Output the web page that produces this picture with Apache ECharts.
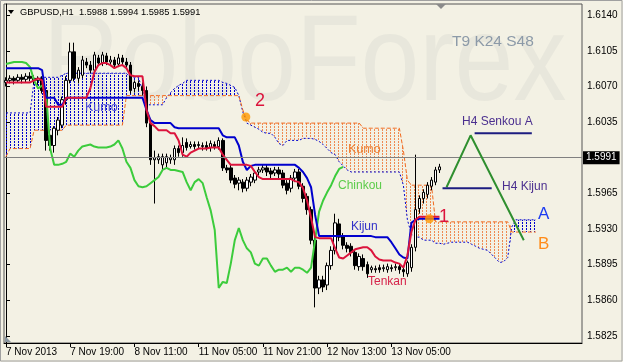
<!DOCTYPE html>
<html><head><meta charset="utf-8">
<script src="https://cdn.jsdelivr.net/npm/echarts@6.0.0/dist/echarts.min.js"></script>
<style>html,body{margin:0;padding:0;background:#F3F1E4;}#c{width:623px;height:362px;}</style>
</head><body><div id="c"></div>
<script>
// ---------- data ----------
const symbolTitle = 'GBPUSD,H1  1.5988 1.5994 1.5985 1.5991';
const tickLabels = ['7 Nov 2013','7 Nov 19:00','8 Nov 11:00','11 Nov 05:00','11 Nov 21:00','12 Nov 13:00','13 Nov 05:00'];
const barsPerTick = 16;
const slotCount = 144;
const priceTicks = [1.5825,1.5860,1.5895,1.5930,1.5965,1.6000,1.6035,1.6070,1.6105,1.6140];
const lastPrice = 1.5991;

// [open, close, low, high]
const candles = [
[1.6074,1.6076,1.6070,1.6079],[1.6076,1.6078,1.6073,1.6081],[1.6078,1.6076,1.6072,1.6080],[1.6076,1.6079,1.6074,1.6082],[1.6079,1.6077,1.6073,1.6082],
[1.6077,1.6080,1.6074,1.6083],[1.6080,1.6078,1.6075,1.6084],[1.6078,1.6076,1.6072,1.6081],[1.6076,1.6078,1.6071,1.6080],[1.6078,1.6066,1.6063,1.6080],
[1.6066,1.6017,1.6007,1.6068],[1.6022,1.6012,1.6007,1.6026],[1.6012,1.6029,1.6005,1.6031],[1.6027,1.6037,1.6022,1.6040],[1.6032,1.6057,1.6029,1.6060],
[1.6057,1.6076,1.6052,1.6080],[1.6076,1.6104,1.6073,1.6113],[1.6104,1.6078,1.6075,1.6113],[1.6078,1.6086,1.6073,1.6089],[1.6081,1.6096,1.6078,1.6100],
[1.6094,1.6091,1.6088,1.6098],[1.6091,1.6086,1.6083,1.6095],[1.6086,1.6101,1.6083,1.6104],[1.6098,1.6093,1.6090,1.6101],[1.6093,1.6101,1.6090,1.6104],
[1.6100,1.6094,1.6091,1.6103],[1.6094,1.6096,1.6091,1.6100],[1.6096,1.6091,1.6088,1.6099],[1.6092,1.6098,1.6089,1.6102],[1.6098,1.6094,1.6091,1.6101],
[1.6094,1.6091,1.6088,1.6098],[1.6091,1.6066,1.6063,1.6094],[1.6068,1.6074,1.6064,1.6076],[1.6073,1.6070,1.6066,1.6076],[1.6070,1.6066,1.6061,1.6074],
[1.6066,1.6034,1.6030,1.6070],[1.6034,1.5998,1.5993,1.6036],[1.5998,1.6000,1.5955,1.6007],[1.5998,1.6001,1.5994,1.6004],[1.5993,1.6001,1.5988,1.6004],
[1.5995,1.6001,1.5990,1.6004],[1.5998,1.6000,1.5994,1.6003],[1.5998,1.6009,1.5993,1.6012],[1.6009,1.6005,1.6001,1.6012],[1.6005,1.6012,1.6001,1.6020],
[1.6015,1.6010,1.6007,1.6019],[1.6011,1.6013,1.6009,1.6016],[1.6013,1.6011,1.6008,1.6016],[1.6012,1.6013,1.6009,1.6016],[1.6011,1.6012,1.6007,1.6015],
[1.6012,1.6010,1.6007,1.6016],[1.6010,1.6014,1.6006,1.6017],[1.6013,1.6011,1.6008,1.6016],[1.6011,1.6017,1.6008,1.6020],[1.6017,1.5990,1.5987,1.6019],
[1.5990,1.5988,1.5985,1.5993],[1.5990,1.5978,1.5975,1.5993],[1.5980,1.5974,1.5970,1.5983],[1.5975,1.5978,1.5968,1.5981],[1.5976,1.5970,1.5966,1.5979],
[1.5970,1.5978,1.5967,1.5981],[1.5976,1.5981,1.5972,1.5984],[1.5978,1.5985,1.5975,1.5988],[1.5986,1.5988,1.5983,1.5991],[1.5988,1.5990,1.5985,1.5993],
[1.5990,1.5986,1.5982,1.5993],[1.5987,1.5984,1.5980,1.5990],[1.5985,1.5988,1.5982,1.5991],[1.5988,1.5984,1.5980,1.5991],[1.5985,1.5973,1.5970,1.5988],
[1.5975,1.5968,1.5964,1.5978],[1.5970,1.5980,1.5966,1.5983],[1.5980,1.5986,1.5976,1.5989],[1.5986,1.5972,1.5969,1.5989],[1.5972,1.5960,1.5956,1.5975],
[1.5962,1.5949,1.5944,1.5965],[1.5949,1.5919,1.5915,1.5952],[1.5919,1.5872,1.5853,1.5922],[1.5872,1.5880,1.5866,1.5884],[1.5880,1.5873,1.5868,1.5884],
[1.5875,1.5894,1.5870,1.5897],[1.5894,1.5909,1.5890,1.5913],[1.5909,1.5936,1.5905,1.5945],[1.5935,1.5922,1.5918,1.5940],[1.5923,1.5914,1.5910,1.5926],
[1.5914,1.5911,1.5907,1.5917],[1.5913,1.5907,1.5903,1.5916],[1.5907,1.5894,1.5890,1.5910],[1.5893,1.5903,1.5889,1.5906],[1.5901,1.5893,1.5889,1.5905],
[1.5895,1.5886,1.5882,1.5898],[1.5890,1.5892,1.5887,1.5894],[1.5891,1.5890,1.5887,1.5894],[1.5892,1.5890,1.5887,1.5895],[1.5891,1.5892,1.5888,1.5895],
[1.5890,1.5893,1.5887,1.5896],[1.5892,1.5891,1.5888,1.5895],[1.5892,1.5893,1.5889,1.5896],[1.5893,1.5890,1.5886,1.5896],[1.5890,1.5888,1.5883,1.5892],
[1.5886,1.5897,1.5883,1.5899],[1.5892,1.5912,1.5888,1.5915],[1.5912,1.5949,1.5908,1.6003],[1.5950,1.5960,1.5945,1.5963],[1.5960,1.5966,1.5955,1.5969],
[1.5964,1.5973,1.5960,1.5976],[1.5972,1.5978,1.5968,1.5981],[1.5976,1.5988,1.5973,1.5991],[1.5988,1.5991,1.5985,1.5994]
];

const tenkan = [
1.6074,1.6074,1.6074,1.6074,1.6074,1.6074,1.6074,1.6076,1.6078,1.6076,
1.6050,1.6050,1.6050,1.6050,1.6050,1.6059,1.6059,1.6059,1.6059,1.6059,
1.6059,1.6068,1.6084,1.6091,1.6093,1.6093,1.6091,1.6088,1.6090,1.6091,
1.6088,1.6081,1.6080,1.6080,1.6080,1.6047,1.6034,1.6031,1.6027,1.6027,
1.6027,1.6024,1.6024,1.6017,1.6003,1.6001,1.6005,1.6007,1.6009,1.6009,
1.6009,1.6010,1.6010,1.6010,1.6003,1.5998,1.5993,1.5993,1.5993,1.5993,
1.5993,1.5992,1.5986,1.5981,1.5979,1.5979,1.5979,1.5979,1.5979,1.5979,
1.5979,1.5979,1.5977,1.5976,1.5970,1.5958,1.5941,1.5922,1.5921,1.5921,
1.5921,1.5921,1.5911,1.5902,1.5901,1.5904,1.5907,1.5910,1.5911,1.5912,
1.5912,1.5909,1.5903,1.5900,1.5899,1.5899,1.5899,1.5897,1.5896,1.5892,
1.5904,1.5927,1.5939,1.5942,1.5942,1.5942,1.5942,1.5942,1.5942
];

const kijun = [
1.6088,1.6088,1.6088,1.6088,1.6088,1.6088,1.6088,1.6088,1.6088,1.6086,
1.6059,1.6059,1.6059,1.6052,1.6052,1.6059,1.6059,1.6059,1.6059,1.6059,
1.6059,1.6059,1.6059,1.6059,1.6059,1.6059,1.6059,1.6059,1.6059,1.6059,
1.6059,1.6059,1.6059,1.6059,1.6059,1.6047,1.6037,1.6034,1.6034,1.6034,
1.6034,1.6034,1.6030,1.6029,1.6029,1.6029,1.6029,1.6029,1.6029,1.6029,
1.6029,1.6029,1.6029,1.6029,1.6022,1.6020,1.6020,1.6020,1.6012,1.5996,
1.5988,1.5992,1.5993,1.5993,1.5993,1.5993,1.5993,1.5993,1.5993,1.5993,
1.5993,1.5993,1.5993,1.5990,1.5986,1.5980,1.5971,1.5944,1.5923,1.5923,
1.5923,1.5923,1.5923,1.5923,1.5923,1.5923,1.5923,1.5923,1.5923,1.5923,
1.5923,1.5923,1.5922,1.5922,1.5922,1.5922,1.5917,1.5911,1.5905,1.5902,
1.5901,1.5936,1.5939,1.5940,1.5940,1.5940,1.5940,1.5940,1.5940
];

const chinkou = [
1.6092,1.6093,1.6094,1.6094,1.6094,1.6093,1.6089,1.6076,1.6068,1.6071,
1.6063,1.6009,1.5993,1.5993,1.5994,1.5996,1.6004,1.6001,1.6007,1.6011,
1.6012,1.6013,1.6011,1.6010,1.6010,1.6010,1.6011,1.6013,1.6017,1.6009,
1.5996,1.5990,1.5978,1.5972,1.5971,1.5972,1.5975,1.5978,1.5981,1.5988,
1.5990,1.5988,1.5988,1.5987,1.5986,1.5976,1.5968,1.5976,1.5979,1.5975,
1.5961,1.5948,1.5929,1.5872,1.5878,1.5877,1.5896,1.5919,1.5931,1.5919,
1.5911,1.5907,1.5896,1.5894,1.5901,1.5901,1.5894,1.5888,1.5890,1.5890,
1.5892,1.5888,1.5892,1.5892,1.5890,1.5887,1.5892,1.5919,1.5947,1.5958,
1.5966,1.5973,1.5982,1.5989,1.5991
];

const senkouA = [
1.6044,1.6044,1.6044,1.6044,1.6044,1.6044,1.6044,1.6076,1.6079,1.6079,
1.6079,1.6079,1.6079,1.6079,1.6081,1.6083,1.6083,1.6083,1.6083,1.6083,
1.6083,1.6083,1.6083,1.6083,1.6083,1.6083,1.6083,1.6083,1.6083,1.6083,
1.6083,1.6079,1.6079,1.6079,1.6066,1.6052,1.6052,1.6052,1.6052,1.6052,
1.6059,1.6064,1.6068,1.6071,1.6073,1.6076,1.6076,1.6076,1.6076,1.6076,
1.6076,1.6076,1.6076,1.6076,1.6074,1.6073,1.6071,1.6069,1.6061,1.6045,
1.6034,1.6032,1.6030,1.6028,1.6025,1.6024,1.6024,1.6020,1.6014,1.6012,
1.6017,1.6017,1.6017,1.6017,1.6019,1.6019,1.6019,1.6018,1.6016,1.6013,
1.6009,1.6005,1.6003,1.5996,1.5992,1.5988,1.5986,1.5986,1.5986,1.5986,
1.5986,1.5986,1.5986,1.5986,1.5986,1.5986,1.5986,1.5986,1.5986,1.5973,
1.5939,1.5925,1.5922,1.5922,1.5919,1.5919,1.5919,1.5916,1.5916,1.5915,
1.5916,1.5917,1.5917,1.5917,1.5917,1.5917,1.5915,1.5913,1.5911,1.5910,
1.5909,1.5905,1.5901,1.5897,1.5898,1.5902,1.5932,1.5939,1.5939,1.5939,
1.5939,1.5939,1.5939
];

const senkouB = [
1.6001,1.6009,1.6009,1.6009,1.6009,1.6009,1.6009,1.6027,1.6027,1.6027,
1.6027,1.6027,1.6027,1.6027,1.6027,1.6032,1.6032,1.6032,1.6032,1.6032,
1.6032,1.6032,1.6032,1.6032,1.6032,1.6032,1.6032,1.6032,1.6032,1.6032,
1.6061,1.6061,1.6061,1.6061,1.6061,1.6061,1.6061,1.6061,1.6061,1.6061,
1.6061,1.6061,1.6061,1.6061,1.6061,1.6061,1.6061,1.6061,1.6061,1.6061,
1.6061,1.6061,1.6061,1.6061,1.6061,1.6061,1.6061,1.6061,1.6061,1.6047,
1.6037,1.6034,1.6034,1.6034,1.6034,1.6034,1.6034,1.6034,1.6034,1.6034,
1.6034,1.6034,1.6034,1.6034,1.6034,1.6034,1.6034,1.6034,1.6034,1.6034,
1.6034,1.6034,1.6034,1.6034,1.6034,1.6034,1.6034,1.6034,1.6034,1.6029,
1.6029,1.6029,1.6029,1.6029,1.6029,1.6029,1.6029,1.6029,1.6029,1.6007,
1.5978,1.5973,1.5973,1.5973,1.5973,1.5973,1.5973,1.5937,1.5937,1.5937,
1.5937,1.5937,1.5937,1.5937,1.5937,1.5937,1.5937,1.5937,1.5937,1.5937,
1.5937,1.5937,1.5937,1.5937,1.5937,1.5937,1.5927,1.5927,1.5927,1.5927,
1.5927,1.5927,1.5927
];

// hand-drawn annotations: [bar position, price]
const h4SenkouA = [[116.75,1.6024],[131,1.6024]];
const h4Kijun = [[108.75,1.5970],[121,1.5970]];
const forecastPath = [[109.75,1.5971],[115.75,1.6022],[129,1.5919]];
const signalPoints = [[59.75,1.6040],[105.5,1.5940]];

// ---------- chart ----------
const categories = [];
for (let i = 0; i < slotCount; i++) categories.push(String(i));
const showTick = (idx) => idx % barsPerTick === 0 && idx / barsPerTick < tickLabels.length;

function hatch(color) {
  const c = document.createElement('canvas');
  c.width = 4; c.height = 3;
  const g = c.getContext('2d');
  g.fillStyle = color;
  g.fillRect(2, 0, 1, 2);
  return c;
}
const kumoBase = senkouA.map((a, i) => Math.min(a, senkouB[i]));
const kumoBull = senkouA.map((a, i) => a > senkouB[i] ? a - senkouB[i] : 0);
const kumoBear = senkouA.map((a, i) => senkouB[i] > a ? senkouB[i] - a : 0);

const FONT = '"Liberation Sans", Arial, sans-serif';
function txt(x, y, text, size, fill, z) {
  return {type:'text', x:x, y:y, z: z == null ? 20 : z, silent:true,
    style:{text:text, font: size + 'px ' + FONT, fill:fill, verticalAlign:'middle', align:'left'}};
}

const chart = echarts.init(document.getElementById('c'), null, {renderer:'canvas'});
chart.setOption({
  animation:false,
  backgroundColor:'#F3F1E4',
  grid:{left:4, right:41, top:4, bottom:19, show:true, borderColor:'#555', borderWidth:1, backgroundColor:'transparent', containLabel:false, outerBoundsMode:'none'},
  xAxis:[{
    type:'category', data:categories, boundaryGap:true,
    axisLine:{show:true, lineStyle:{color:'#000', width:1}},
    axisTick:{show:true, alignWithLabel:true, interval:showTick, length:4, lineStyle:{color:'#000'}},
    axisLabel:{show:true, interval:showTick, formatter:(v, i) => tickLabels[Math.round(i / barsPerTick)] || '',
      align:'left', color:'#000', fontSize:10, fontFamily:'Liberation Sans', margin:4},
    splitLine:{show:false}
  },{
    type:'value', min:-0.5, max:slotCount - 0.5, show:false
  }],
  yAxis:{
    type:'value', position:'right', min:1.5818, max:1.6151, scale:true,
    axisLine:{show:true, lineStyle:{color:'#000'}},
    axisTick:{show:true, customValues:priceTicks, length:4, lineStyle:{color:'#000'}},
    axisLabel:{show:true, customValues:priceTicks, formatter:v => Number(v).toFixed(4), color:'#000', fontSize:10, fontFamily:'Liberation Sans', margin:5},
    splitLine:{show:false}
  },
  graphic:[
    {type:'text', x:43, y:66, scaleX:0.86, z:0, silent:true,
      style:{text:'RoboForex', font:'123px ' + FONT, fill:'#E8E7DC', verticalAlign:'middle', align:'left'}},
    {type:'polygon', z:20, silent:true, shape:{points:[[8,10],[14,10],[11,14]]}, style:{fill:'#000'}},
    txt(20, 12, symbolTitle, 9.3, '#000'),
    txt(452, 42, 'T9 K24 S48', 15.5, '#8c9aa8'),
    txt(85, 108, 'Kumo', 12.5, '#4a4ad8'),
    txt(348, 150, 'Kumo', 12.5, '#ee8236'),
    txt(255, 101, '2', 18, '#dc143c'),
    txt(439, 217, '1', 18, '#dc143c'),
    txt(338, 186, 'Chinkou', 12, '#5ccc4a'),
    txt(351, 227, 'Kijun', 12, '#3030c8'),
    txt(368, 282, 'Tenkan', 12, '#d6244a'),
    txt(462, 122, 'H4 Senkou A', 12, '#4b2f8f'),
    txt(502, 187, 'H4 Kijun', 12, '#4b2f8f'),
    txt(538, 214, 'A', 17, '#1c3cf2'),
    txt(538, 244, 'B', 17, '#ff8c1a'),
    {type:'polygon', z:20, silent:true, shape:{points:[[436,4],[446,4],[441,9]]}, style:{fill:'#8a8a8a'}},
    {type:'polygon', z:20, silent:true, shape:{points:[[5,336],[5,342],[11,342]]}, style:{fill:'#8a96a0'}},
    {type:'rect', z:30, silent:true, shape:{x:0.5, y:0.5, width:621.5, height:360.5}, style:{fill:'none', stroke:'#a0a0a0', lineWidth:1}}
  ],
  series:[
    {type:'line', data:kumoBase, stack:'kumo', stackStrategy:'all', symbol:'none', silent:true, lineStyle:{opacity:0}, z:1},
    {type:'line', data:kumoBull, stack:'kumo', stackStrategy:'all', symbol:'none', silent:true, lineStyle:{opacity:0},
      areaStyle:{color:{image:hatch('#0000CD'), repeat:'repeat'}, opacity:1}, z:1},
    {type:'line', data:kumoBear, stack:'kumo', stackStrategy:'all', symbol:'none', silent:true, lineStyle:{opacity:0},
      areaStyle:{color:{image:hatch('#EE8A52'), repeat:'repeat'}, opacity:1}, z:1},
    {type:'line', data:senkouA, symbol:'none', silent:true, lineStyle:{color:'#0000CD', width:1, type:[2,2]}, z:2},
    {type:'line', data:senkouB, symbol:'none', silent:true, lineStyle:{color:'#F26A1E', width:1, type:[4,2]}, z:2},
    {type:'candlestick', data:candles, barWidth:3, silent:true,
      itemStyle:{color:'#ffffff', color0:'#000000', borderColor:'#000000', borderColor0:'#000000', borderWidth:1}, z:3,
      markLine:{silent:true, symbol:['none','none'], animation:false, data:[{yAxis:lastPrice}],
        lineStyle:{color:'#808080', width:1, type:'solid'},
        label:{show:true, position:'end', formatter:lastPrice.toFixed(4), color:'#fff', backgroundColor:'#000',
          padding:[2,3,1,3], fontSize:10, fontFamily:'Liberation Sans', distance:1}}},
    {type:'line', data:chinkou, symbol:'none', silent:true, lineStyle:{color:'#3ccc3c', width:2}, z:4},
    {type:'line', data:kijun, symbol:'none', silent:true, lineStyle:{color:'#0000CD', width:2}, z:4},
    {type:'line', data:tenkan, symbol:'none', silent:true, lineStyle:{color:'#DC143C', width:2}, z:4},
    {type:'line', xAxisIndex:1, data:forecastPath, symbol:'none', silent:true, lineStyle:{color:'#2f8f2f', width:2}, z:5},
    {type:'line', xAxisIndex:1, data:h4SenkouA, symbol:'none', silent:true, lineStyle:{color:'#1c1c80', width:2}, z:5},
    {type:'line', xAxisIndex:1, data:h4Kijun, symbol:'none', silent:true, lineStyle:{color:'#1c1c80', width:2}, z:5},
    {type:'scatter', xAxisIndex:1, data:signalPoints, symbolSize:9, silent:true, itemStyle:{color:'#FF9900'}, z:6}
  ]
});
</script>
</body></html>
